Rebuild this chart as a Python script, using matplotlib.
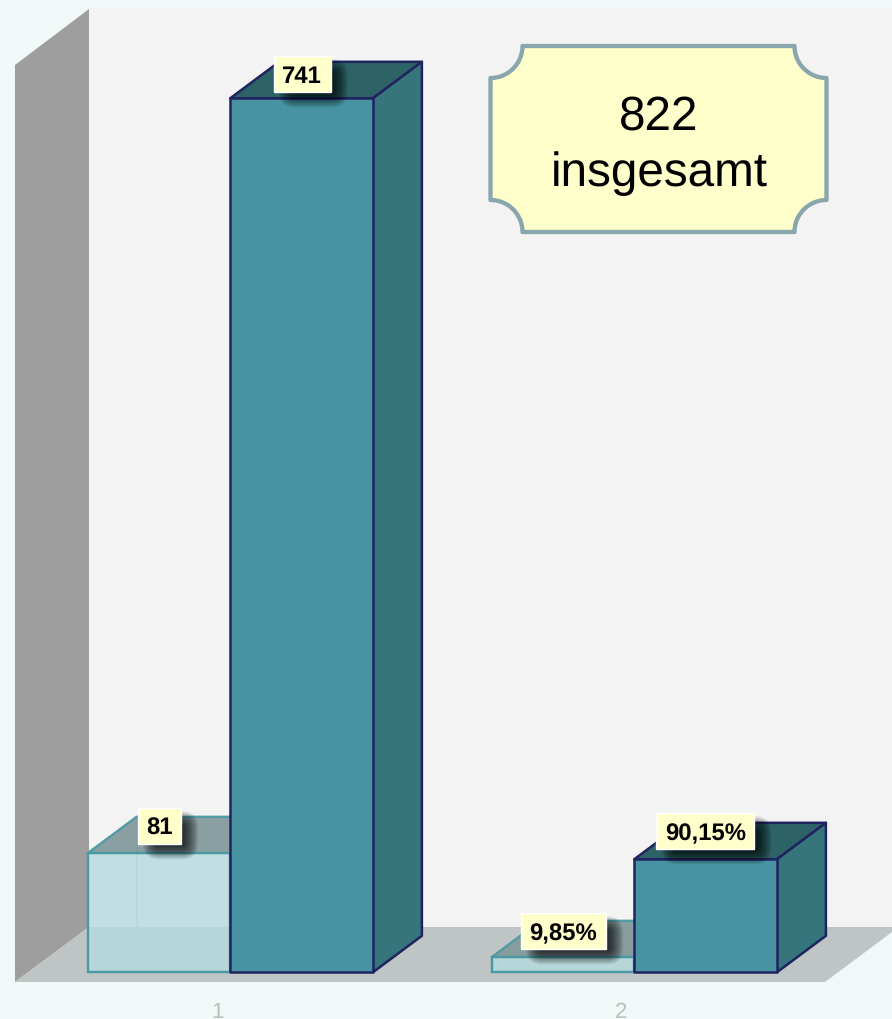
import numpy as np
import matplotlib
matplotlib.use("Agg")
import matplotlib.pyplot as plt
from matplotlib.patches import Polygon, Rectangle, PathPatch, FancyBboxPatch
from matplotlib.path import Path

plt.rcParams['font.family'] = ['Liberation Sans', 'DejaVu Sans']
plt.rcParams['text.hinting'] = 'no_hinting'

groups = ['1', '2']
light_heights = [119, 15]
dark_heights = [874, 113]
light_labels = ['81', '9,85%']
dark_labels = ['741', '90,15%']
total_text = '822\ninsgesamt'

# layout
group_left = [87.5, 491.5]
bar_w = 142.7
floor_y = 972.3
dx, dy = 49, 36.5

BG = '#F1F9F8'
YELLOW = '#FFFFCC'
EDGE_DARK = '#1F2460'
EDGE_LIGHT = '#4A9AA3'

fig = plt.figure(figsize=(8.92, 10.19), dpi=100, facecolor=BG)
ax = fig.add_axes([0, 0, 1, 1])
ax.set_xlim(0, 892)
ax.set_ylim(1019, 0)
ax.axis('off')


def poly(pts, fc, ec='none', lw=0, z=1, alpha=None):
    ax.add_patch(Polygon(pts, closed=True, fc=fc, ec=ec, lw=lw, zorder=z,
                         alpha=alpha, joinstyle='round'))


# walls and floor
ax.add_patch(Rectangle((89, 8), 803, 919, fc='#F3F3F3', ec='none', zorder=0))
poly([(15, 65), (89, 9), (89, 927), (15, 982)], '#9E9E9E', z=1)
poly([(15, 982), (89, 927), (892, 927), (892, 932), (825, 982)], '#BFC4C4', z=1)


def light_box(x, h, z):
    top = floor_y - h
    r = x + bar_w
    # back edges seen through the box
    for seg in [[(x + dx, floor_y - dy), (x + dx, top - dy)],
                [(x + dx, floor_y - dy), (r + dx, floor_y - dy)],
                [(x, floor_y), (x + dx, floor_y - dy)]]:
        ax.plot(*zip(*seg), color='#A9D3D9', lw=1.5, zorder=z)
    poly([(x, top), (x + dx, top - dy), (r + dx, top - dy), (r, top)],
         '#82999C', EDGE_LIGHT, 1.7, z + 0.1, alpha=0.93)
    poly([(x, floor_y), (x, top), (r, top), (r, floor_y)],
         '#B5DBDF', 'none', 0, z + 0.2, alpha=0.8)
    ax.add_patch(Rectangle((x, top), bar_w, h, fc='none', ec=EDGE_LIGHT,
                           lw=1.7, zorder=z + 0.3))


def dark_box(x, h, z):
    top = floor_y - h
    r = x + bar_w
    poly([(x, top), (x + dx, top - dy), (r + dx, top - dy), (r, top)],
         '#2D6266', EDGE_DARK, 1.8, z)
    poly([(r, floor_y), (r, top), (r + dx, top - dy), (r + dx, floor_y - dy)],
         '#36757B', EDGE_DARK, 1.8, z)
    poly([(x, floor_y), (x, top), (r, top), (r, floor_y)],
         '#4793A1', EDGE_DARK, 1.8, z + 0.1)


def value_label(cx, cy, w, txt):
    h = 36
    # soft shadow built from stacked see-through boxes
    for grow in np.arange(6, -10, -1):
        ax.add_patch(FancyBboxPatch((cx - w / 2 + 11 - grow, cy - h / 2 + 9 - grow),
                                    w + 2 * grow, h + 2 * grow,
                                    boxstyle='round,pad=0,rounding_size=%g' % max(grow + 10, 1),
                                    fc='black', ec='none', alpha=0.07, zorder=9))
    ax.add_patch(Rectangle((cx - w / 2, cy - h / 2), w, h, fc=YELLOW,
                           ec='white', lw=1, zorder=10))
    ax.text(cx, cy, txt, ha='center', va='center_baseline', fontsize=17.2,
            fontweight='bold', color='black', zorder=11)


for i in range(2):
    light_box(group_left[i], light_heights[i], 2)
    dark_box(group_left[i] + bar_w, dark_heights[i], 3)
    ax.text(group_left[i] + bar_w - 13, 1018, groups[i], ha='center',
            va='baseline', fontsize=16, color='#BDBDBD')

# labels sit on the back top edge of each box
for i in range(2):
    lx = group_left[i] + [72, 72][i]
    ly = floor_y - light_heights[i] - [27, 26][i]
    value_label(lx, ly, [43, 85][i], light_labels[i])
    rx = group_left[i] + bar_w + [72, 71][i]
    ry = floor_y - dark_heights[i] - [24, 28][i]
    value_label(rx, ry, [57, 98][i], dark_labels[i])


# plaque with scooped corners
def plaque(x0, y0, x1, y1, r):
    pts = []
    corners = [(x0, y0, 0, 90), (x1, y0, 90, 180), (x1, y1, 180, 270), (x0, y1, 270, 360)]
    for cx, cy, a0, a1 in corners:
        t = np.radians(np.linspace(a1, a0, 24))
        pts.extend(zip(cx + r * np.cos(t), cy + r * np.sin(t)))
    return pts


pl = plaque(490.5, 46, 826.5, 232, 32)
ax.add_patch(PathPatch(Path(pl + [pl[0]], closed=True), fc=YELLOW, ec='#88A6AB',
                       lw=3.1, joinstyle='round', zorder=12))
lines = total_text.split('\n')
ax.text(659, 130, lines[0], ha='center', va='baseline', fontsize=34.3, color='black', zorder=13)
ax.text(659, 186, lines[1], ha='center', va='baseline', fontsize=34.3, color='black', zorder=13)

fig.savefig('out.png', dpi=100, facecolor=BG)
